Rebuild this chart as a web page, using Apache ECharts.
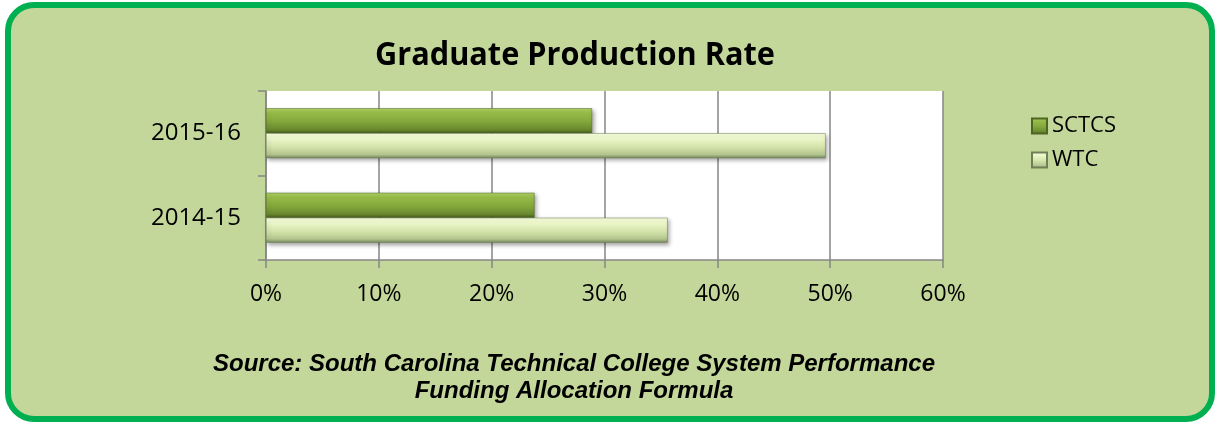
<!DOCTYPE html>
<html><head><meta charset="utf-8">
<script src="https://cdn.jsdelivr.net/npm/echarts@6/dist/echarts.min.js"></script>
<style>html,body{margin:0;padding:0;background:#fff}#c{width:1215px;height:423px}</style>
</head><body><div id="c"></div>
<script>
const categories = ['2014-15', '2015-16'];
const sctcs = [23.8, 28.9];
const wtc = [35.6, 49.6];
const seriesNames = ['SCTCS', 'WTC'];
const title = 'Graduate Production Rate';
const sourceLines = ['Source: South Carolina Technical College System Performance', 'Funding Allocation Formula'];

const chart = echarts.init(document.getElementById('c'));
const F = "'Open Sans', sans-serif";
function grad(stops) {
  return new echarts.graphic.LinearGradient(0, 0, 0, 1, stops.map(s => ({offset: s[0], color: s[1]})));
}
const cS = grad([[0, '#b0d364'], [0.2, '#97bb48'], [0.55, '#83a63b'], [0.85, '#6a892f'], [1, '#4a5f20']]);
const cW = grad([[0, '#f7ffdc'], [0.2, '#eef8cc'], [0.55, '#d3e3aa'], [0.85, '#b3c58e'], [1, '#74845a']]);
chart.setOption({
  animation: false,
  backgroundColor: '#fff',
  graphic: [
    {type: 'rect', z: -10, shape: {x: 8, y: 5, width: 1204, height: 414, r: 26},
     style: {fill: '#c4d79b', stroke: '#00b050', lineWidth: 6}},
    {type: 'text', x: 575, y: 56, scaleX: 0.93,
     style: {text: title, font: "bold 33px 'Open Sans', sans-serif", fill: '#000', align: 'center', verticalAlign: 'middle'}},
    {type: 'text', x: 574, y: 364, style: {text: sourceLines[0], font: "italic bold 24px 'Liberation Sans', sans-serif", fill: '#000', align: 'center', verticalAlign: 'middle'}},
    {type: 'text', x: 574, y: 391, style: {text: sourceLines[1], font: "italic bold 24px 'Liberation Sans', sans-serif", fill: '#000', align: 'center', verticalAlign: 'middle'}}
  ],
  legend: {
    orient: 'vertical', left: 1026, top: 110, itemWidth: 15, itemHeight: 15, itemGap: 12, icon: 'rect',
    data: seriesNames,
    textStyle: {fontFamily: F, fontSize: 22, color: '#000'}
  },
  grid: {left: 266, right: 272, top: 91, bottom: 163, show: true, backgroundColor: '#fff', borderWidth: 0},
  xAxis: {
    type: 'value', min: 0, max: 60, interval: 10,
    axisLine: {show: true, lineStyle: {color: '#868686', width: 1.5}},
    axisTick: {show: true, length: 8, lineStyle: {color: '#868686', width: 1.5}},
    splitLine: {show: true, lineStyle: {color: '#868686', width: 1.5}},
    axisLabel: {formatter: '{value}%', fontFamily: F, fontSize: 23, color: '#000', margin: 23}
  },
  yAxis: {
    type: 'category', data: categories,
    axisLine: {show: true, lineStyle: {color: '#868686', width: 1.5}},
    axisTick: {show: true, length: 8, lineStyle: {color: '#868686', width: 1.5}},
    axisLabel: {fontFamily: F, fontSize: 24, color: '#000', margin: 25}
  },
  series: [
    {name: 'SCTCS', type: 'bar', data: sctcs, barWidth: 25, barGap: '0%',
     itemStyle: {color: cS, borderColor: '#4f6623', borderWidth: 0.5, shadowBlur: 4, shadowColor: 'rgba(0,0,0,0.35)', shadowOffsetX: 2, shadowOffsetY: 2}},
    {name: 'WTC', type: 'bar', data: wtc, barWidth: 25, barGap: '0%',
     itemStyle: {color: cW, borderColor: '#6f7f55', borderWidth: 0.5, shadowBlur: 4, shadowColor: 'rgba(0,0,0,0.35)', shadowOffsetX: 2, shadowOffsetY: 2}}
  ]
});
</script></body></html>
